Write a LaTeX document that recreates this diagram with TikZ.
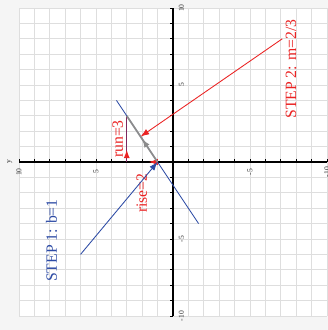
\documentclass[tikz,border=0pt]{standalone}
\usepackage{fontspec}
\setmainfont{Liberation Serif}
\usetikzlibrary{arrows.meta, decorations.markings}
\definecolor{lineBlue}{RGB}{45, 75, 165}
\definecolor{stepRed}{RGB}{235, 35, 35}
\definecolor{runPurple}{RGB}{125, 40, 95}
\definecolor{slopeGray}{RGB}{140, 140, 140}
\definecolor{gridGray}{RGB}{222, 222, 222}
\definecolor{pageGray}{RGB}{245, 245, 245}

\begin{document}
\begin{tikzpicture}[x=0.5cm, y=0.5cm, rotate=90,
    every node/.style={rotate=90, inner sep=0pt},
    ticklabel/.style={font=\fontsize{7}{8}\selectfont, text=black!80},
    steplabel/.style={font=\fontsize{14.5}{16}\selectfont, anchor=base west},
    stepArrow/.style={-{Latex[length=2.8mm, width=2mm]}, line width=0.8pt},
    midtip/.style 2 args={postaction={decorate}, decoration={markings,
        mark=at position #1 with {\arrow{Latex[length=2.8mm, width=2mm, color=#2]}}}}]
    % page and grid
    \fill[pageGray] (-10.91,-10.06) rectangle (10.52,11.23);
    \useasboundingbox (-10.91,-10.06) rectangle (10.52,11.23);
    \fill[white] (-10,-10) rectangle (10,10);
    \draw[gridGray, line width=0.6pt, step=1] (-10,-10) grid (10,10);

    \coordinate (b) at (0,1);
    \coordinate (c) at (0,3);
    \coordinate (p) at (3,3);
    \coordinate (lineA) at (-4,-5/3);
    \coordinate (lineB) at (4,11/3);
    \coordinate (s1) at (-6,6);
    \coordinate (s2) at (8,-7.1);
    \coordinate (m) at (1.65,2.1);

    % rise sits under the axis
    \draw[stepRed, line width=1.2pt] (b) -- (c);

    % axes
    \draw[line width=1.3pt] (-10,0) -- (10,0);
    \draw[line width=1.3pt] (0,-10) -- (0,10);
    \foreach \t in {-10,...,10} {
        \draw[line width=0.7pt] (\t,0) -- (\t,0.2);
        \draw[line width=0.7pt] (0,\t) -- (0.2,\t);
    }
    \foreach \t in {-10,-5,5,10} {
        \node[ticklabel] (xl\t) at (\t,-0.55) {\t};
        \node[ticklabel] (yl\t) at (-0.65,\t) {\t};
    }
    \node[ticklabel] (ylab) at (0,10.6) {y};
    \path[midtip={0.27}{stepRed}] (b) -- (c);

    % line, slope triangle
    \draw[lineBlue, line width=0.8pt] (lineA) -- (lineB);
    \draw[runPurple, line width=1.4pt, midtip={0.27}{stepRed}] (c) -- (p);
    \draw[slopeGray, line width=1.6pt, midtip={0.5}{slopeGray}] (b) -- (p);

    % labels
    \node[steplabel, text=lineBlue] (step1) at (-7.8,7.53) {STEP 1: b=1};
    \node[steplabel, text=stepRed] (step2) at (2.8,-8.0) {STEP 2: m=2/3};
    \node[steplabel, text=stepRed] (run) at (0.26,3.25) {run=3};
    \node[steplabel, text=stepRed] (rise) at (-3.31,1.69) {rise=2};

    \draw[stepArrow, lineBlue] (s1) -- (b);
    \draw[stepArrow, stepRed] (s2) -- (m);
\end{tikzpicture}
\end{document}
